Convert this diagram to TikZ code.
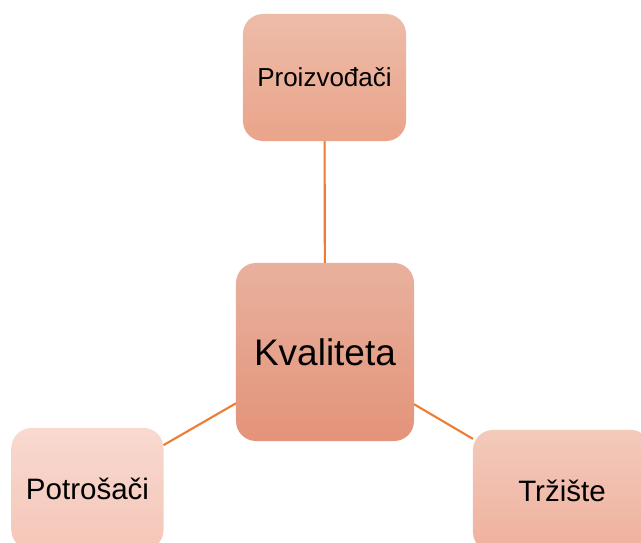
\documentclass[tikz,border=0pt]{standalone}
\usepackage{fontspec}
\setmainfont{Liberation Sans}
\definecolor{linkorange}{RGB}{237,125,49}
\definecolor{kvaltop}{RGB}{232,177,157}
\definecolor{kvalbot}{RGB}{228,147,122}
\definecolor{proitop}{RGB}{237,188,169}
\definecolor{proibot}{RGB}{234,164,138}
\definecolor{potrtop}{RGB}{248,217,208}
\definecolor{potrbot}{RGB}{245,198,184}
\definecolor{trzitop}{RGB}{243,202,187}
\definecolor{trzibot}{RGB}{239,176,157}

\begin{document}
\begin{tikzpicture}[x=0.025cm, y=-0.025cm,
	box/.style={rectangle, rounded corners=0.5cm, outer sep=0pt, inner sep=0pt, shading=axis},
	link/.style={line width=1.5pt, color=linkorange}]
	%%%%% START %%%%%
	
	\clip (0, 0) rectangle (641, 543);
	
	\node[box, minimum width=4.45cm, minimum height=4.45cm, top color=kvaltop, bottom color=kvalbot, font=\fontsize{26.3}{30}\selectfont] (kval) at (325, 352) {Kvaliteta};
	\node[box, minimum width=4.075cm, minimum height=3.175cm, top color=proitop, bottom color=proibot, font=\fontsize{18.5}{22}\selectfont] (proi) at (324.5, 77.5) {Proizvođači};
	\node[box, minimum width=3.8cm, minimum height=3.05cm, top color=potrtop, bottom color=potrbot, font=\fontsize{21}{25}\selectfont] (potr) at (87.5, 489) {Potrošači};
	\node[box, minimum width=4.45cm, minimum height=3.05cm, top color=trzitop, bottom color=trzibot, font=\fontsize{21}{25}\selectfont] (trzi) at (562, 491) {Tržište};
	
	\draw[link] (kval) -- (proi);
	\draw[link] (kval) -- (potr);
	\draw[link] (kval) -- (trzi);
	
	%%%%% END %%%%%
\end{tikzpicture}
\end{document}
